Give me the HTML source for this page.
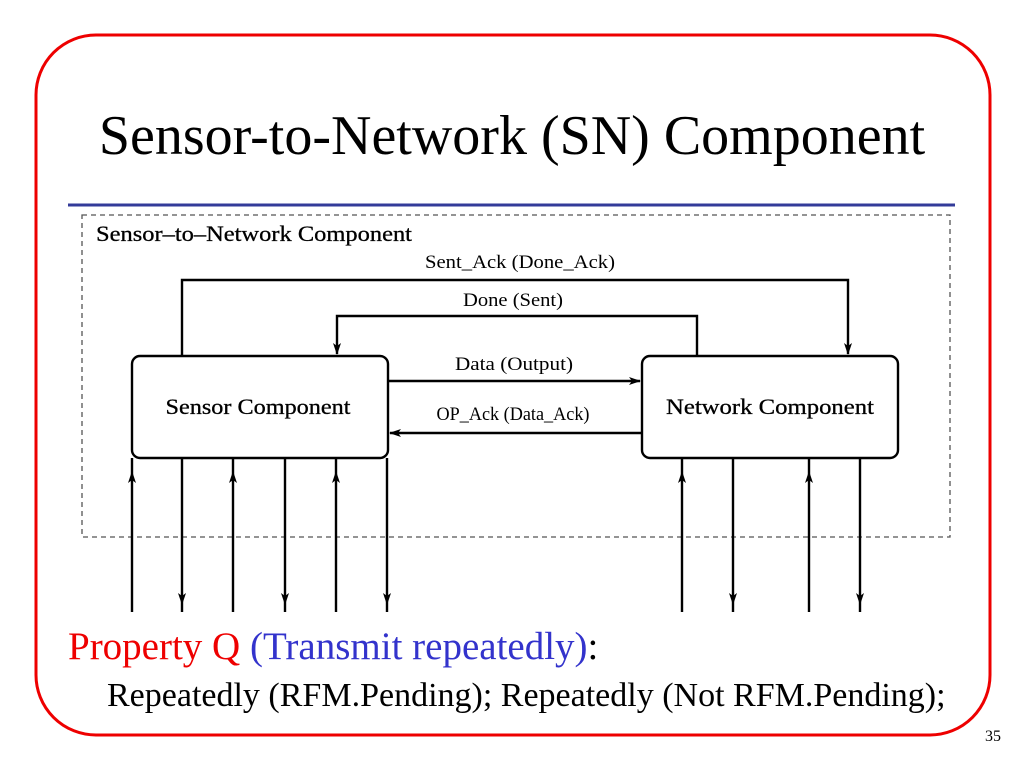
<!DOCTYPE html>
<html><head><style>
body{margin:0;width:1024px;height:768px;background:#fff;position:relative;overflow:hidden;font-family:"Liberation Serif",serif}
.t{position:absolute;white-space:nowrap}
</style></head><body>
<svg width="1024" height="768" style="position:absolute;left:0;top:0">
<defs><marker id="a" markerWidth="12" markerHeight="10" refX="11" refY="5" orient="auto" markerUnits="userSpaceOnUse"><path d="M0,1 L12,5 L0,9 L3,5 z" fill="#000"/></marker></defs>
<rect x="36" y="35" width="954" height="700" rx="60" fill="none" stroke="#e00" stroke-width="3"/>
<line x1="68" y1="205" x2="955" y2="205" stroke="#333b99" stroke-width="3"/>
<rect x="82" y="215" width="868" height="322" fill="none" stroke="#555" stroke-width="1.3" stroke-dasharray="5,4"/>
<rect x="132" y="356" width="256" height="102" rx="8" fill="none" stroke="#000" stroke-width="2.4"/>
<rect x="642" y="356" width="256" height="102" rx="8" fill="none" stroke="#000" stroke-width="2.4"/>
<g stroke="#000" stroke-width="2.4" fill="none">
<polyline points="182,356 182,280 848,280 848,354" marker-end="url(#a)"/>
<polyline points="697,356 697,316 337,316 337,354" marker-end="url(#a)"/>
<line x1="388" y1="381" x2="640" y2="381" marker-end="url(#a)"/>
<line x1="642" y1="433" x2="390" y2="433" marker-end="url(#a)"/>
<line x1="132" y1="612" x2="132" y2="472" marker-end="url(#a)"/><line x1="132" y1="472" x2="132" y2="458"/>
<line x1="233" y1="612" x2="233" y2="472" marker-end="url(#a)"/><line x1="233" y1="472" x2="233" y2="458"/>
<line x1="336" y1="612" x2="336" y2="472" marker-end="url(#a)"/><line x1="336" y1="472" x2="336" y2="458"/>
<line x1="682" y1="612" x2="682" y2="472" marker-end="url(#a)"/><line x1="682" y1="472" x2="682" y2="458"/>
<line x1="809" y1="612" x2="809" y2="472" marker-end="url(#a)"/><line x1="809" y1="472" x2="809" y2="458"/>
<line x1="182" y1="458" x2="182" y2="604" marker-end="url(#a)"/><line x1="182" y1="604" x2="182" y2="612"/>
<line x1="285" y1="458" x2="285" y2="604" marker-end="url(#a)"/><line x1="285" y1="604" x2="285" y2="612"/>
<line x1="387" y1="458" x2="387" y2="604" marker-end="url(#a)"/><line x1="387" y1="604" x2="387" y2="612"/>
<line x1="733" y1="458" x2="733" y2="604" marker-end="url(#a)"/><line x1="733" y1="604" x2="733" y2="612"/>
<line x1="860" y1="458" x2="860" y2="604" marker-end="url(#a)"/><line x1="860" y1="604" x2="860" y2="612"/>
</g>
<g font-family="Liberation Serif, serif" font-size="19" text-anchor="middle">
<text x="520" y="268" textLength="190" lengthAdjust="spacingAndGlyphs">Sent_Ack (Done_Ack)</text>
<text x="513" y="306" textLength="100" lengthAdjust="spacingAndGlyphs">Done (Sent)</text>
<text x="514" y="370" textLength="118" lengthAdjust="spacingAndGlyphs">Data (Output)</text>
<text x="513" y="420" textLength="153" lengthAdjust="spacingAndGlyphs">OP_Ack (Data_Ack)</text>
<text x="258" y="414" font-size="22" textLength="185" lengthAdjust="spacingAndGlyphs" stroke="#000" stroke-width="0.3">Sensor Component</text>
<text x="770" y="414" font-size="22" textLength="208" lengthAdjust="spacingAndGlyphs" stroke="#000" stroke-width="0.3">Network Component</text>
<text x="96" y="241" font-size="22" text-anchor="start" textLength="316" lengthAdjust="spacingAndGlyphs" stroke="#000" stroke-width="0.3">Sensor–to–Network Component</text>
</g>
</svg>
<div class="t" style="left:0;width:1024px;text-align:center;top:104px;font-size:56px">Sensor-to-Network (SN) Component</div>
<div class="t" style="left:68px;top:624px;font-size:39px;color:#e00">Property Q <span style="color:#33c">(Transmit repeatedly)</span><span style="color:#000">:</span></div>
<div class="t" style="left:107px;top:677px;font-size:34px">Repeatedly (RFM.Pending); Repeatedly (Not RFM.Pending);</div>
<div class="t" style="left:985px;top:728px;font-size:16px">35</div>
</body></html>
